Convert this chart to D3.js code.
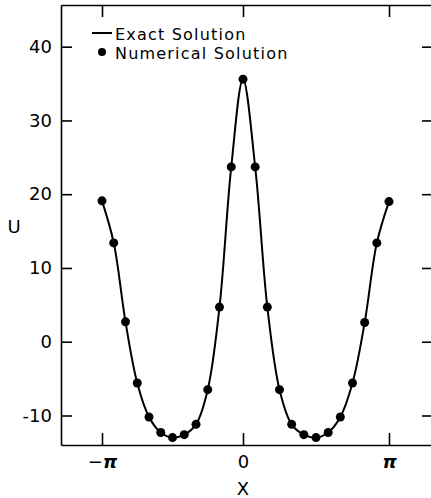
<!DOCTYPE html>
<html>
<head>
<meta charset="utf-8">
<script src="https://cdn.jsdelivr.net/npm/d3@7"></script>
<style>
  body { margin: 0; background: #fff; }
  svg { display: block; }
  .axis text { font-family: "DejaVu Sans", sans-serif; font-size: 18px; fill: #000; }
</style>
</head>
<body>
<svg width="431" height="498"></svg>
<script>
// x positions in units of pi/12, from -pi to pi
const stepIndex = [-12, -11, -10, -9, -8, -7, -6, -5, -4, -3, -2, -1, 0,
                   1, 2, 3, 4, 5, 6, 7, 8, 9, 10, 11, 12];
// U values
const uValues = [19.1, 13.4, 2.7, -5.6, -10.2, -12.3, -13.0, -12.6, -11.2, -6.5, 4.7, 23.7, 35.6,
                 23.7, 4.7, -6.5, -11.2, -12.6, -13.0, -12.3, -10.2, -5.6, 2.6, 13.4, 19.0];
const xTickValues = [-Math.PI, 0, Math.PI];
const xTickLabels = ["\u2212", "", ""];
const xTickSymbols = ["\u03c0", "0", "\u03c0"];
const yTickValues = [-10, 0, 10, 20, 30, 40];
const legendLabels = ["Exact Solution", "Numerical Solution"];

const points = stepIndex.map(function(k, i) {
    return { x: k * Math.PI / 12, u: uValues[i] };
});

const svg = d3.select("svg");
const plotLeft = 61, plotRight = 433, plotTop = 5, plotBottom = 445;

// scan is slightly stretched on the right, so a piecewise scale
const xScale = d3.scaleLinear()
    .domain([-4.06, -Math.PI, 0, Math.PI, 4.06])
    .range([plotLeft, 102, 243, 389, plotRight]);
const yScale = d3.scaleLinear().domain([-14, 45.65]).range([plotBottom, plotTop]);

// axes, ticks point inward
svg.append("g").attr("class", "axis")
    .attr("transform", "translate(" + plotLeft + ",0)")
    .call(d3.axisLeft(yScale).tickValues(yTickValues).tickSizeInner(-11).tickSizeOuter(0).tickPadding(9)
        .tickFormat(function(d) { return String(d); }));
svg.append("g").attr("class", "axis")
    .attr("transform", "translate(" + plotRight + ",0)")
    .call(d3.axisRight(yScale).tickValues(yTickValues).tickSizeInner(-11).tickSizeOuter(0).tickFormat(""));
const xAxisG = svg.append("g").attr("class", "axis xaxis")
    .attr("transform", "translate(0," + plotBottom + ")")
    .call(d3.axisBottom(xScale).tickValues(xTickValues).tickSizeInner(-12).tickSizeOuter(0).tickPadding(10)
        .tickFormat(function(d, i) { return xTickLabels[i]; }));
// pi drawn bold italic, minus sign plain
xAxisG.selectAll(".tick text").each(function(d, i) {
    d3.select(this).append("tspan")
        .style("font-style", i === 1 ? "normal" : "italic")
        .style("font-weight", i === 1 ? "normal" : "bold")
        .text(xTickSymbols[i]);
});
svg.append("g").attr("class", "axis")
    .attr("transform", "translate(0," + plotTop + ")")
    .call(d3.axisTop(xScale).tickValues(xTickValues).tickSizeInner(-12).tickSizeOuter(0).tickFormat(""));

svg.selectAll(".axis path, .axis line").attr("stroke", "#000").attr("stroke-width", 1.6);

// axis titles
svg.append("text")
    .attr("x", 14).attr("y", 233)
    .attr("text-anchor", "middle")
    .style("font-family", "DejaVu Sans, sans-serif")
    .style("font-size", "18px")
    .text("U");
svg.append("text")
    .attr("x", 243).attr("y", 495)
    .attr("text-anchor", "middle")
    .style("font-family", "DejaVu Sans, sans-serif")
    .style("font-size", "18px")
    .text("X");

// exact solution curve
const line = d3.line()
    .x(function(d) { return xScale(d.x); })
    .y(function(d) { return yScale(d.u); })
    .curve(d3.curveCatmullRom.alpha(0.5));

svg.append("path")
    .datum(points)
    .attr("d", line)
    .style("fill", "none")
    .style("stroke", "#000")
    .style("stroke-width", 2);

// numerical solution dots
svg.selectAll(".dot")
    .data(points)
    .enter()
    .append("circle")
    .attr("class", "dot")
    .attr("cx", function(d) { return xScale(d.x); })
    .attr("cy", function(d) { return yScale(d.u); })
    .attr("r", 4.5)
    .style("fill", "#000");

// legend
const legend = svg.append("g");
legend.append("line")
    .attr("x1", 92).attr("x2", 112).attr("y1", 33).attr("y2", 33)
    .attr("stroke", "#000").attr("stroke-width", 2);
legend.append("circle")
    .attr("cx", 102).attr("cy", 52).attr("r", 4).style("fill", "#000");
legend.selectAll(".legtext")
    .data(legendLabels)
    .enter()
    .append("text")
    .attr("class", "legtext")
    .attr("x", 115)
    .attr("y", function(d, i) { return 40 + i * 19; })
    .style("font-family", "DejaVu Sans, sans-serif")
    .style("font-size", "16px")
    .style("letter-spacing", "1.2px")
    .text(function(d) { return d; });
</script>
</body>
</html>
